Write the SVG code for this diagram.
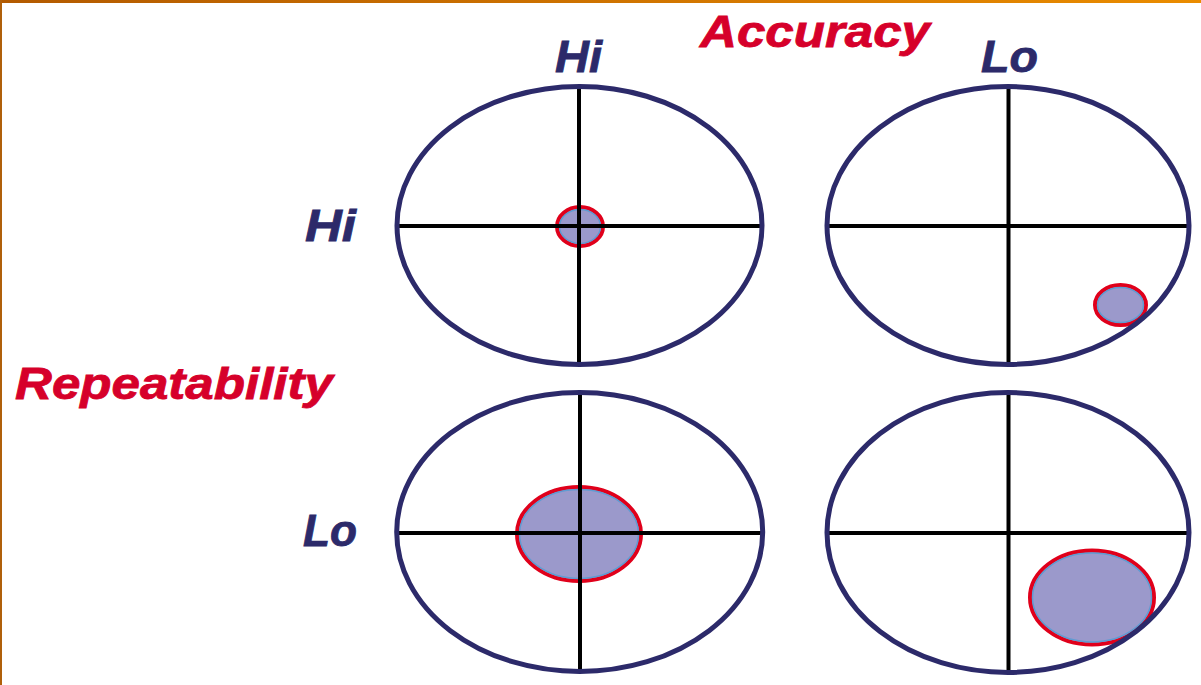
<svg xmlns="http://www.w3.org/2000/svg" width="1201" height="685" viewBox="0 0 1201 685">
  <defs>
    <linearGradient id="bar" x1="0" y1="0" x2="1" y2="0">
      <stop offset="0" stop-color="#b35a00"/>
      <stop offset="1" stop-color="#ea8c00"/>
    </linearGradient>
    <style>
      .target { fill: none; stroke: #2c2a6a; stroke-width: 5; }
      .cross { stroke: #000; stroke-width: 4; }
      .spot { fill: #9b99cb; stroke: #e0001b; stroke-width: 4; }
      .spotin { fill: none; stroke: #5f9bd2; stroke-width: 1.5; }
      .axis { font-family: "Liberation Sans", Arial, sans-serif; font-weight: bold; font-style: italic; fill: #2c2a6a; stroke: #2c2a6a; stroke-width: 0.8; font-size: 45px; }
      .title { font-family: "Liberation Sans", Arial, sans-serif; font-weight: bold; font-style: italic; fill: #d6002a; stroke: #d6002a; stroke-width: 0.8; font-size: 45px; }
    </style>
  </defs>
  <rect x="0" y="0" width="1201" height="685" fill="#ffffff"/>
  <rect x="0" y="0" width="1201" height="3" fill="url(#bar)"/>
  <rect x="0" y="0" width="2" height="685" fill="#b0600a"/>

  <g id="labels">
    <text class="title" x="700" y="47" textLength="230" lengthAdjust="spacingAndGlyphs">Accuracy</text>
    <text class="title" x="15" y="399" textLength="318" lengthAdjust="spacingAndGlyphs">Repeatability</text>
    <text class="axis" x="555" y="72" textLength="47" lengthAdjust="spacingAndGlyphs">Hi</text>
    <text class="axis" x="981" y="72" textLength="57" lengthAdjust="spacingAndGlyphs">Lo</text>
    <text class="axis" x="305" y="241" textLength="51" lengthAdjust="spacingAndGlyphs">Hi</text>
    <text class="axis" x="303" y="546" textLength="54" lengthAdjust="spacingAndGlyphs">Lo</text>
  </g>

  <g id="target-hi-hi">
    <ellipse class="spot" cx="580" cy="226.5" rx="23" ry="19.5"/>
    <ellipse class="spotin" cx="580" cy="226.5" rx="20.5" ry="17"/>
    <line class="cross" x1="579" y1="87" x2="579" y2="364"/>
    <line class="cross" x1="397" y1="226" x2="762" y2="226"/>
    <ellipse class="target" cx="579.5" cy="225.5" rx="182.5" ry="139"/>
  </g>

  <g id="target-hi-lo">
    <ellipse class="spot" cx="1120.5" cy="305" rx="25.5" ry="20"/>
    <ellipse class="spotin" cx="1120.5" cy="305" rx="23" ry="17.5"/>
    <line class="cross" x1="1008.5" y1="87" x2="1008.5" y2="364"/>
    <line class="cross" x1="827" y1="226" x2="1189" y2="226"/>
    <ellipse class="target" cx="1008" cy="225.5" rx="181" ry="139"/>
  </g>

  <g id="target-lo-hi">
    <ellipse class="spot" cx="579" cy="534" rx="62" ry="47"/>
    <ellipse class="spotin" cx="579" cy="534" rx="59.5" ry="44.5"/>
    <line class="cross" x1="580" y1="393" x2="580" y2="671"/>
    <line class="cross" x1="397" y1="533" x2="762" y2="533"/>
    <ellipse class="target" cx="579.7" cy="532" rx="183" ry="139.5"/>
  </g>

  <g id="target-lo-lo">
    <ellipse class="spot" cx="1092" cy="597.5" rx="62" ry="47"/>
    <ellipse class="spotin" cx="1092" cy="597.5" rx="59.5" ry="44.5"/>
    <line class="cross" x1="1008.5" y1="393" x2="1008.5" y2="671"/>
    <line class="cross" x1="827" y1="533" x2="1189" y2="533"/>
    <ellipse class="target" cx="1008" cy="532.5" rx="181" ry="140"/>
  </g>

  <g id="connectors"/>
</svg>
